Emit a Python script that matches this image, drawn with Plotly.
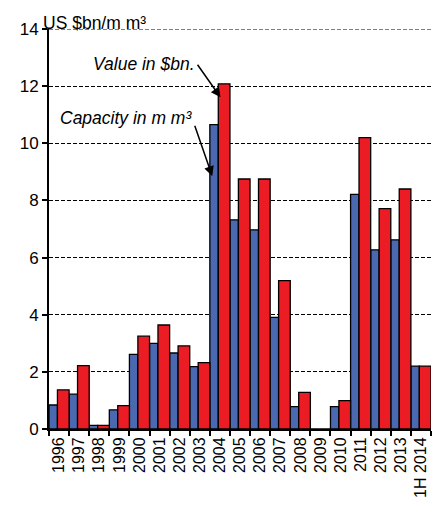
import plotly.graph_objects as go

categories = ["1996", "1997", "1998", "1999", "2000", "2001", "2002", "2003", "2004",
              "2005", "2006", "2007", "2008", "2009", "2010", "2011", "2012", "2013", "1H 2014"]
capacity = [0.84, 1.22, 0.13, 0.67, 2.61, 3.00, 2.66, 2.18, 10.65,
            7.32, 6.97, 3.91, 0.78, 0.0, 0.78, 8.21, 6.27, 6.62, 2.20]
value = [1.37, 2.22, 0.13, 0.82, 3.25, 3.64, 2.91, 2.32, 12.08,
         8.75, 8.75, 5.19, 1.28, 0.0, 0.99, 10.20, 7.71, 8.40, 2.20]
y_ticks = [0, 2, 4, 6, 8, 10, 12, 14]

FONT = "Liberation Sans, Arial, Helvetica, sans-serif"
BLUE = "#4A69B0"
RED = "#EC1C24"

fig = go.Figure()
fig.add_trace(go.Bar(x=categories, y=capacity, name="Capacity in m m³",
                     marker=dict(color=BLUE, line=dict(color="black", width=1.3)),
                     width=0.42, offset=-0.5))
fig.add_trace(go.Bar(x=categories, y=value, name="Value in $bn.",
                     marker=dict(color=RED, line=dict(color="black", width=1.3)),
                     width=0.58, offset=-0.08))

fig.update_layout(
    width=447, height=512,
    margin=dict(l=40, r=24, t=18, b=91),
    barmode="overlay",
    showlegend=False,
    plot_bgcolor="white", paper_bgcolor="white",
    font=dict(family=FONT, color="black"),
)
fig.update_xaxes(
    type="category", tickson="boundaries", ticks="outside", ticklen=5,
    tickcolor="black", tickwidth=1.5,
    showline=True, linecolor="black", linewidth=2,
    tickangle=-90, tickfont=dict(size=16, family=FONT),
    showgrid=False,
)
fig.update_yaxes(
    range=[0, 14], tickvals=y_ticks, ticks="outside", ticklen=5,
    tickcolor="black", tickwidth=1.5,
    showline=True, linecolor="black", linewidth=2,
    tickfont=dict(size=17, family=FONT),
    showgrid=True, gridcolor="black", gridwidth=1.2, griddash="4px,2px",
    zeroline=False,
)

# top gridline at the range edge
fig.add_shape(type="line", xref="paper", yref="y", x0=0, x1=1, y0=y_ticks[-1], y1=y_ticks[-1],
              line=dict(color="black", width=1.2, dash="4px,2px"), layer="below")

# unit label
fig.add_annotation(text="US $bn/m m³", xref="paper", yref="paper", x=-0.02, y=1.0,
                   xanchor="left", yanchor="bottom", showarrow=False, yshift=-6,
                   font=dict(size=17.5, family=FONT))
# callouts
fig.add_annotation(x=8.03, y=11.61, xref="x", yref="y", text="", showarrow=True,
                   ax=-24, ay=-34, arrowhead=2, arrowsize=1.3, arrowwidth=1.5, arrowcolor="black")
fig.add_annotation(x=7.62, y=8.85, xref="x", yref="y", text="", showarrow=True,
                   ax=-18, ay=-52, arrowhead=2, arrowsize=1.3, arrowwidth=1.5, arrowcolor="black")
fig.add_annotation(x=8.03, y=11.61, xref="x", yref="y", text="<i>Value in $bn.</i>",
                   showarrow=False, xanchor="right", yanchor="middle", xshift=-24, yshift=33,
                   font=dict(size=17.5, family=FONT))
fig.add_annotation(x=7.62, y=8.85, xref="x", yref="y", text="<i>Capacity in m m³</i>",
                   showarrow=False, xanchor="right", yanchor="middle", xshift=-18, yshift=58,
                   font=dict(size=17.5, family=FONT))

fig.write_html("out.html")
